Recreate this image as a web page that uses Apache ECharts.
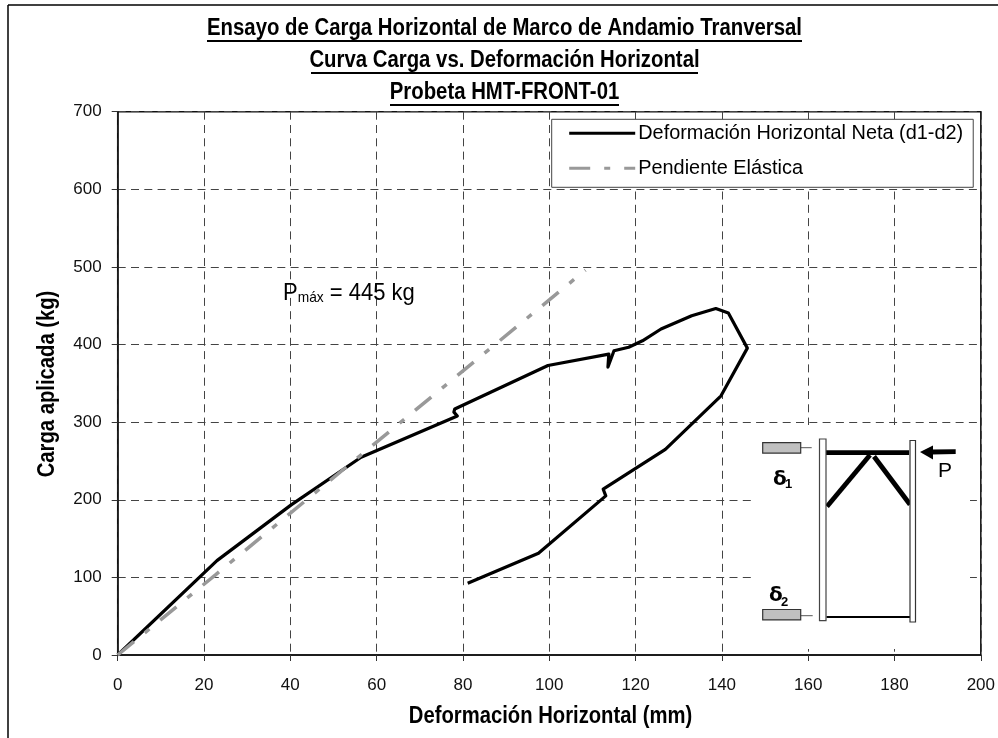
<!DOCTYPE html>
<html><head><meta charset="utf-8">
<style>html,body{margin:0;padding:0;background:#fff}#c{width:998px;height:738px}</style>
<script src="https://cdn.jsdelivr.net/npm/echarts@6/dist/echarts.min.js"></script>
</head><body><div id="c"></div>
<script>
const titleLines = ['Ensayo de Carga Horizontal de Marco de Andamio Tranversal','Curva Carga vs. Deformación Horizontal','Probeta HMT-FRONT-01'];
const xName = 'Deformación Horizontal (mm)';
const yName = 'Carga aplicada (kg)';
const netaName = 'Deformación Horizontal Neta (d1-d2)';
const elasticaName = 'Pendiente Elástica';
const netaX = [0,23.0,40.2,40.4,56.4,78.7,77.9,78.1,99.7,113.8,113.6,115,118.4,121.6,125.9,133,138.6,141.5,145.9,139.8,126.9,112.5,113.1,97.5,81.1];
const netaY = [0,121.6,193.4,191,254.8,308,313,317,373,387.6,371,392,396.6,404.8,420,437,446.4,440.5,395.4,333.9,265,213.6,205,131,92.4];
const elasticaX = [0,22.8,108.4];
const elasticaY = [0,104,496];
const sans = '"Liberation Sans",Arial,sans-serif';
const L=117.7,T=111.7,R=982.7,B=655;
const dark='#111';
function ln(x1,y1,x2,y2,w,c,z){return {type:'line',z:z||20,shape:{x1,y1,x2,y2},style:{stroke:c||'#000',lineWidth:w}};}
function rc(x,y,width,height,fill,stroke,w,z){return {type:'rect',z:z||21,shape:{x,y,width,height},style:{fill,stroke,lineWidth:w}};}
function tx(x,y,text,font,extra){return {type:'text',z:22,x,y,style:Object.assign({text,fill:'#000',font},extra||{})};}
function narrowTx(x,y,text,sx,rot){return {type:'text',z:22,x,y,scaleX:sx,rotation:rot||0,style:{text,fill:'#000',font:'bold 23px '+sans,align:'center',verticalAlign:'middle'}};}
const titleY=[28.5,60.5,92.5];
const underlines=[[207,802,41],[311,698,73],[390,619,105]];
const graphic=[
 ln(8,5,998,5,1.5,'#000'),ln(8,5,8,738,1.5,'#000'),
 ...titleLines.map((t,i)=>narrowTx(504.5,titleY[i],t,0.885)),
 ...underlines.map(u=>ln(u[0],u[2],u[1],u[2],2,'#000')),
 narrowTx(550.5,717,xName,0.88),
 narrowTx(48,384,yName,0.88,Math.PI/2),
 rc(755,425,215,224,'#fff',null,0,5),
 rc(819.5,439,6.5,181.7,'#fff','#444',1.2),
 rc(910,440.5,5.5,181.5,'#fff','#333',1.2),
 ln(825,452.7,909,452.7,4.8),
 ln(827,506.5,870,455,4.8),
 ln(874,456.5,910,504.5,4.8),
 ln(826.5,617,910,617,2),
 rc(762.7,442.7,38,10.4,'#c0c0c0','#333',1.2),
 ln(790.7,447.7,811.7,447.7,1,'#555'),
 rc(762.7,609.5,38,10.4,'#c0c0c0','#333',1.2),
 ln(791.7,615.7,812.7,615.7,1,'#555'),
 ln(955.7,451.7,932,452,4.8),
 {type:'polygon',z:21,shape:{points:[[920,452],[933,445.5],[933,459.5]]},style:{fill:'#000'}},
 tx(938,461,'P','21px '+sans),
 tx(773,470,'δ','bold 20px "DejaVu Sans",sans-serif'),
 tx(785,478,'1','bold 13px '+sans),
 tx(769,586,'δ','bold 20px "DejaVu Sans",sans-serif'),
 tx(781,596,'2','bold 13px '+sans),
 {type:'text',z:22,x:283,y:281,scaleX:0.917,style:{text:'{p|P}{s|máx}{p| = 445 kg}',rich:{p:{font:'24px '+sans,fill:'#000',verticalAlign:'bottom'},s:{font:'15px '+sans,fill:'#000',padding:[8,0,0,0],verticalAlign:'bottom'}}}}
];
const chart=echarts.init(document.getElementById('c'),null,{renderer:'canvas'});
chart.setOption({
 animation:false,
 backgroundColor:'#fff',
 grid:{left:L,top:T,width:R-L,height:B-T,containLabel:false,show:true,backgroundColor:'transparent',borderColor:dark,borderWidth:1.5},
 legend:{show:true,left:551.7,top:119.3,orient:'vertical',
   backgroundColor:'#fff',borderColor:'#444',borderWidth:1,padding:[4,10,9,16],itemGap:15,itemWidth:66,itemHeight:20,
   itemStyle:{opacity:0},lineStyle:{width:3},
   data:[netaName,elasticaName],
   textStyle:{fontFamily:sans,fontSize:19.9,color:'#000',padding:[0,0,0,-2]}},
 xAxis:{type:'value',min:0,max:200,interval:20,
   axisLine:{show:true,onZero:false,lineStyle:{color:dark,width:1.5}},
   axisTick:{show:true,length:6,lineStyle:{color:'#333',width:1}},
   axisLabel:{fontFamily:sans,fontSize:17,color:'#111',margin:22},
   splitLine:{show:true,lineStyle:{color:'#444',width:1,type:[8,5.3]}}},
 yAxis:{type:'value',min:0,max:700,interval:100,
   axisLine:{show:true,onZero:false,lineStyle:{color:dark,width:1.5}},
   axisTick:{show:true,length:6,lineStyle:{color:'#333',width:1}},
   axisLabel:{fontFamily:sans,fontSize:17,color:'#111',margin:16},
   splitLine:{show:true,lineStyle:{color:'#444',width:1,type:[8,5.3]}}},
 series:[
  {name:netaName,type:'line',showSymbol:false,symbol:'none',smooth:false,z:3,clip:true,
   data:netaX.map((x,i)=>[x,netaY[i]]),lineStyle:{color:'#000',width:3.2,join:'round'}},
  {name:elasticaName,type:'line',showSymbol:false,symbol:'none',smooth:false,z:4,clip:true,
   data:elasticaX.map((x,i)=>[x,elasticaY[i]]),lineStyle:{color:'#999',width:3.5,type:[21,14,6,14]}}
 ],
 graphic:{elements:graphic}
});
</script></body></html>
